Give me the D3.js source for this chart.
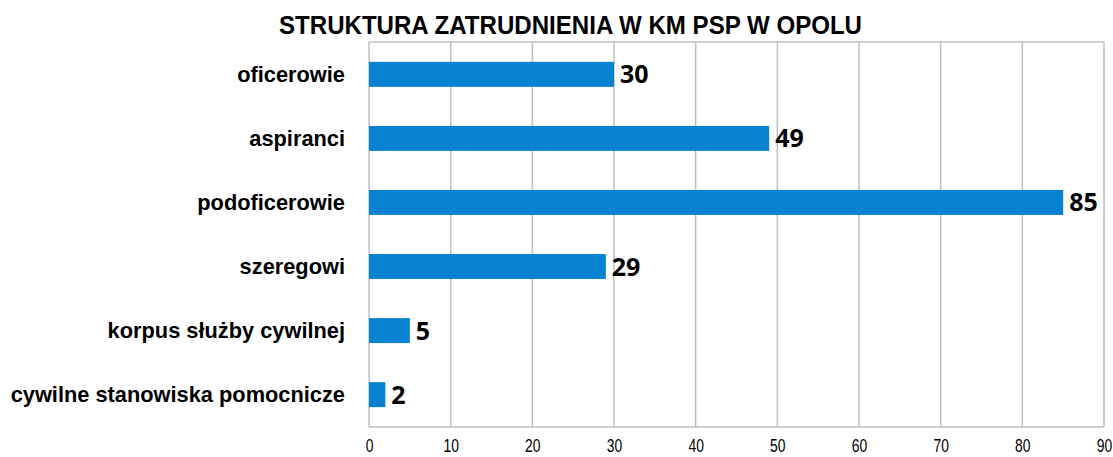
<!DOCTYPE html>
<html><head><meta charset="utf-8">
<script src="https://cdn.jsdelivr.net/npm/d3@7/dist/d3.min.js"></script>
<style>body{margin:0;background:#fff}</style>
</head><body>
<svg id="c" width="1113" height="457"></svg>
<script>
const title = "STRUKTURA ZATRUDNIENIA W KM PSP W OPOLU";
const categories = ["oficerowie","aspiranci","podoficerowie","szeregowi","korpus służby cywilnej","cywilne stanowiska pomocnicze"];
const values = [30,49,85,29,5,2];
const ticks = [0,10,20,30,40,50,60,70,80,90];

const svg = d3.select("#c");
const m = {l:369, r:1104, t:42, b:427};
const x = d3.scaleLinear().domain([0,90]).range([m.l,m.r]);
const y = d3.scaleBand().domain(categories).range([m.t,m.b]).paddingInner(0.61).paddingOuter(0.31);
const font = "'Liberation Sans',Arial,sans-serif";

// grid
svg.append("g").selectAll("line").data(ticks).join("line")
  .attr("x1",d=>x(d)).attr("x2",d=>x(d)).attr("y1",m.t).attr("y2",m.b)
  .attr("stroke","#c0c0c0").attr("stroke-width",1.5);
svg.append("line").attr("x1",m.l).attr("x2",m.r).attr("y1",m.t).attr("y2",m.t).attr("stroke","#c0c0c0").attr("stroke-width",1.5);
svg.append("line").attr("x1",m.l).attr("x2",m.r).attr("y1",m.b).attr("y2",m.b).attr("stroke","#c0c0c0").attr("stroke-width",1.5);

// axis labels
const ax = svg.append("g").attr("transform",`translate(0,${m.b})`)
  .call(d3.axisBottom(x).tickValues(ticks).tickSize(0).tickPadding(12));
ax.select(".domain").remove();
ax.selectAll("text").attr("font-family",font).attr("font-size",18.5).attr("fill","#000")
  .attr("transform","scale(0.75,1)");

// bars
svg.append("g").selectAll("rect").data(values).join("rect")
  .attr("x",x(0)).attr("y",(d,i)=>y(categories[i]))
  .attr("width",d=>x(d)-x(0)).attr("height",y.bandwidth())
  .attr("fill","#0583d2");

// value labels
svg.append("g").selectAll("text").data(values).join("text")
  .attr("x",d=>x(d)+6).attr("y",(d,i)=>y(categories[i])+y.bandwidth()/2)
  .attr("dy","0.36em").attr("font-family","'Open Sans',sans-serif").attr("font-weight","bold")
  .attr("font-size",25).text(d=>d);

// category labels
svg.append("g").selectAll("text").data(categories).join("text")
  .attr("x",345).attr("y",d=>y(d)+y.bandwidth()/2).attr("dy","0.36em")
  .attr("text-anchor","end").attr("font-family",font).attr("font-weight","bold")
  .attr("font-size",21.8).text(d=>d);

// title
svg.append("text").attr("x",279).attr("y",34)
  .attr("font-family",font).attr("font-weight","bold").attr("font-size",25)
  .attr("textLength",583).attr("lengthAdjust","spacingAndGlyphs").text(title);
</script>
</body></html>
